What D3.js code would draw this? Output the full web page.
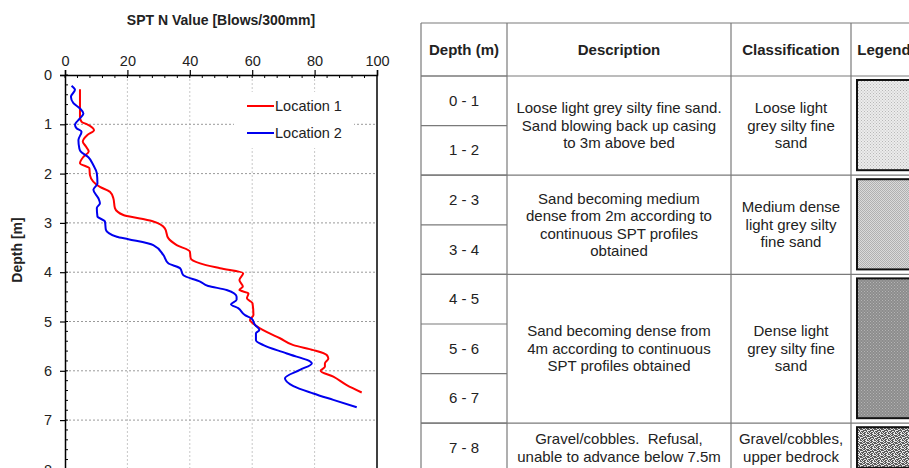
<!DOCTYPE html>
<html>
<head>
<meta charset="utf-8">
<script src="https://cdn.jsdelivr.net/npm/d3@7"></script>
<style>
  html, body { margin: 0; padding: 0; background: #fff; }
  svg { display: block; font-family: "Liberation Sans", Arial, sans-serif; }
  text { white-space: pre; }
</style>
</head>
<body>
<svg id="chart" width="909" height="468"></svg>
<script>
// ---------- dados do perfil SPT ----------
const depth1 = [0.29,0.85,0.95,1.0,1.12,1.22,1.35,1.45,1.55,1.66,1.79,1.89,2.03,2.27,2.37,2.5,2.7,2.84,2.91,2.97,3.11,3.31,3.45,3.58,3.72,3.82,3.92,4.02,4.16,4.29,4.36,4.43,4.53,4.63,4.87,4.97,5.07,5.21,5.34,5.48,5.58,5.68,5.75,5.85,5.92,6.0,6.12,6.29,6.44];
const spt1   = [4.8,4.8,5.3,7.1,9.3,7.1,5.7,6.7,7.6,5.9,4.8,7.8,8.0,11.2,14.4,15.5,16,18.7,24,28.3,32,33.1,35.8,40,40.3,43.3,49.7,57.1,55.9,57,55.9,58.8,58.3,60.1,60.4,59.3,60.9,64.6,68.9,73.2,79.6,83.9,84.4,83.3,83.3,81.9,86,90.3,95.1];
const depth2 = [0.22,0.30,0.44,0.57,0.68,0.78,0.88,1.01,1.08,1.15,1.32,1.49,1.55,1.67,1.83,1.99,2.2,2.33,2.5,2.6,2.7,2.87,2.97,3.14,3.28,3.33,3.45,3.65,3.82,3.92,4.06,4.19,4.28,4.36,4.5,4.56,4.65,4.73,4.87,4.94,5.07,5.17,5.24,5.38,5.48,5.65,5.85,5.98,6.15,6.31,6.46,6.59,6.74];
const spt2   = [2.1,3.2,1.9,2.7,4.8,5.9,4.8,3.2,3.7,5.3,4.3,4.6,5.0,7.5,9.1,10.2,10.4,9.1,10.7,11.2,10.2,10.4,12.8,13.1,16.6,20.3,28.3,31.5,33.1,36.9,37.9,43.3,45.9,51.8,55,55,53.2,55.5,57.7,59.8,60.9,62.3,61.2,61.2,63.6,71.1,79.1,75.3,70.5,73.2,79.6,86,93.5];
const seriesNames = ["Location 1", "Location 2"];
const seriesColors = ["#ff0000", "#0000ee"];
const xTicks = [0, 20, 40, 60, 80, 100];
const yTicks = [0, 1, 2, 3, 4, 5, 6, 7, 8];

// ---------- dados da tabela ----------
const headers = ["Depth (m)", "Description", "Classification", "Legend"];
const depthRanges = ["0 - 1", "1 - 2", "2 - 3", "3 - 4", "4 - 5", "5 - 6", "6 - 7", "7 - 8"];
const groupSpans = [2, 2, 3, 1];
const descriptions = [
  ["Loose light grey silty fine sand.", "Sand blowing back up casing", "to 3m above bed"],
  ["Sand becoming medium", "dense from 2m according to", "continuous SPT profiles", "obtained"],
  ["Sand becoming dense from", "4m according to continuous", "SPT profiles obtained"],
  ["Gravel/cobbles.  Refusal,", "unable to advance below 7.5m"]
];
const classifications = [
  ["Loose light", "grey silty fine", "sand"],
  ["Medium dense", "light grey silty", "fine sand"],
  ["Dense light", "grey silty fine", "sand"],
  ["Gravel/cobbles,", "upper bedrock"]
];
const legendFills = ["pat-loose", "pat-medium", "pat-dense", "pat-gravel"];

const svg = d3.select("#chart");

// ---------- padroes de preenchimento ----------
const defs = svg.append("defs");
function dotPattern(id, bg, dot, size) {
  const p = defs.append("pattern").attr("id", id)
    .attr("patternUnits", "userSpaceOnUse").attr("width", size).attr("height", size);
  p.append("rect").attr("width", size).attr("height", size).attr("fill", bg);
  p.append("rect").attr("width", 1).attr("height", 1).attr("fill", dot);
  p.append("rect").attr("x", size / 2).attr("y", size / 2).attr("width", 1).attr("height", 1).attr("fill", dot);
}
dotPattern("pat-loose", "#ececec", "#b8b8b8", 3);
dotPattern("pat-medium", "#dadada", "#b0b0b0", 2);
dotPattern("pat-dense", "#8c8c8c", "#b4b4b4", 3);
(function () {
  // cascalho: pixels claros/escuros em mosaico fixo
  const cells = [
    "1010011", "0100100", "0011010", "1100001", "0001101", "1010010", "0100110"
  ];
  const n = cells.length;
  const p = defs.append("pattern").attr("id", "pat-gravel")
    .attr("patternUnits", "userSpaceOnUse").attr("width", n).attr("height", n);
  p.append("rect").attr("width", n).attr("height", n).attr("fill", "#5a5a5a");
  cells.forEach((row, r) => row.split("").forEach((c, k) => {
    if (c === "1") p.append("rect").attr("x", k).attr("y", r).attr("width", 1).attr("height", 1).attr("fill", "#e6e6e6");
  }));
})();

// ---------- grafico ----------
const x = d3.scaleLinear().domain([0, 100]).range([65, 377]);
const y = d3.scaleLinear().domain([0, 8]).range([75, 469.4]);

const grid = svg.append("g");
grid.selectAll("line.v").data(xTicks.slice(1, -1)).join("line")
  .attr("x1", d => x(d)).attr("x2", d => x(d)).attr("y1", y(0)).attr("y2", y(8))
  .attr("stroke", "#c8c8c8").attr("stroke-dasharray", "2,2");
grid.selectAll("line.h").data(yTicks.slice(1)).join("line")
  .attr("x1", x(0)).attr("x2", x(100)).attr("y1", d => y(d)).attr("y2", d => y(d))
  .attr("stroke", "#9a9a9a").attr("stroke-dasharray", "2,2");

// legenda (fundo branco corta a grade)
svg.append("rect").attr("x", 234).attr("y", 92).attr("width", 120).attr("height", 56).attr("fill", "#fff");

const line = d3.line().x(d => x(d[1])).y(d => y(d[0])).curve(d3.curveMonotoneY);
[[depth1, spt1], [depth2, spt2]].forEach(([ds, ns], i) => {
  svg.append("path")
    .datum(ds.map((d, k) => [d, ns[k]]))
    .attr("fill", "none").attr("stroke", seriesColors[i]).attr("stroke-width", 2)
    .attr("d", line);
});

// eixos
const xAxis = d3.axisTop(x).tickValues(xTicks).tickSize(5).tickPadding(4);
const yAxis = d3.axisLeft(y).tickValues(yTicks).tickSize(5).tickPadding(8);
const gx = svg.append("g").attr("transform", `translate(0,${y(0)})`).call(xAxis);
const gy = svg.append("g").attr("transform", `translate(${x(0)},0)`).call(yAxis);
[gx, gy].forEach(g => {
  g.select(".domain").attr("stroke", "#000").attr("stroke-width", 1.5);
  g.selectAll(".tick line").attr("stroke", "#000").attr("stroke-width", 1.2);
  g.selectAll(".tick text").attr("font-size", 14.5).attr("fill", "#222")
    .attr("font-family", "'Liberation Sans', Arial, sans-serif");
});
// ticks menores para dentro
svg.append("g").selectAll("line").data(d3.range(0, 100, 4)).join("line")
  .attr("x1", d => x(d)).attr("x2", d => x(d)).attr("y1", y(0)).attr("y2", y(0) + 3)
  .attr("stroke", "#000");
svg.append("g").selectAll("line").data(d3.range(0, 8, 0.2)).join("line")
  .attr("x1", x(0)).attr("x2", x(0) + 3).attr("y1", d => y(d)).attr("y2", d => y(d))
  .attr("stroke", "#000");
svg.append("line").attr("x1", x(100)).attr("x2", x(100)).attr("y1", y(0)).attr("y2", y(8))
  .attr("stroke", "#000").attr("stroke-width", 1.5);

svg.append("text").attr("x", 221).attr("y", 25).attr("text-anchor", "middle")
  .attr("font-size", 14).attr("font-weight", "bold").attr("fill", "#222")
  .text("SPT N Value [Blows/300mm]");
svg.append("text").attr("transform", "translate(22,250) rotate(-90)").attr("text-anchor", "middle")
  .attr("font-size", 14).attr("font-weight", "bold").attr("fill", "#222")
  .text("Depth [m]");

seriesNames.forEach((name, i) => {
  const ly = 106 + i * 27;
  svg.append("line").attr("x1", 247).attr("x2", 274).attr("y1", ly).attr("y2", ly)
    .attr("stroke", seriesColors[i]).attr("stroke-width", 2);
  svg.append("text").attr("x", 275).attr("y", ly + 5).attr("font-size", 14.5).attr("fill", "#222").text(name);
});

// ---------- tabela ----------
const colX = [421, 507, 731, 851, 917];
const headTop = 23, rowTop = 76, rowH = 49.6;
const rowY = i => rowTop + i * rowH;
const tbl = svg.append("g");
const lineColor = "#7a7a7a";
const fs = 15;

depthRanges.forEach((r, i) => {
  tbl.append("text").attr("x", (colX[0] + colX[1]) / 2).attr("y", rowY(i) + rowH / 2 + 5)
    .attr("text-anchor", "middle").attr("font-size", fs).attr("fill", "#222").text(r);
  tbl.append("line").attr("x1", colX[0]).attr("x2", colX[1]).attr("y1", rowY(i)).attr("y2", rowY(i))
    .attr("stroke", lineColor).attr("stroke-width", 1.2);
});

let start = 0;
groupSpans.forEach((span, g) => {
  const top = rowY(start), bot = rowY(start + span), mid = (top + bot) / 2;
  tbl.append("line").attr("x1", colX[0]).attr("x2", colX[4]).attr("y1", top).attr("y2", top)
    .attr("stroke", lineColor).attr("stroke-width", 1.2);
  [[descriptions[g], (colX[1] + colX[2]) / 2], [classifications[g], (colX[2] + colX[3]) / 2]]
    .forEach(([lines, cx]) => {
      const t = tbl.append("text").attr("text-anchor", "middle").attr("font-size", fs).attr("fill", "#222");
      lines.forEach((s, k) => {
        t.append("tspan").attr("x", cx)
          .attr("y", mid + 5 + (k - (lines.length - 1) / 2) * 17.5).text(s);
      });
    });
  tbl.append("rect").attr("x", colX[3] + 6).attr("y", top + 4)
    .attr("width", colX[4] - colX[3] - 12).attr("height", bot - top - 9)
    .attr("fill", `url(#${legendFills[g]})`).attr("stroke", "#111").attr("stroke-width", 2);
  start += span;
});

// cabecalho e bordas
tbl.append("line").attr("x1", colX[0]).attr("x2", colX[4]).attr("y1", headTop).attr("y2", headTop)
  .attr("stroke", lineColor).attr("stroke-width", 1.2);
colX.forEach(cx => tbl.append("line").attr("x1", cx).attr("x2", cx).attr("y1", headTop).attr("y2", 480)
  .attr("stroke", lineColor).attr("stroke-width", 1.2));
headers.forEach((h, i) => {
  tbl.append("text").attr("x", (colX[i] + colX[i + 1]) / 2).attr("y", 55)
    .attr("text-anchor", "middle").attr("font-size", fs).attr("font-weight", "bold").attr("fill", "#222").text(h);
});
</script>
</body>
</html>
